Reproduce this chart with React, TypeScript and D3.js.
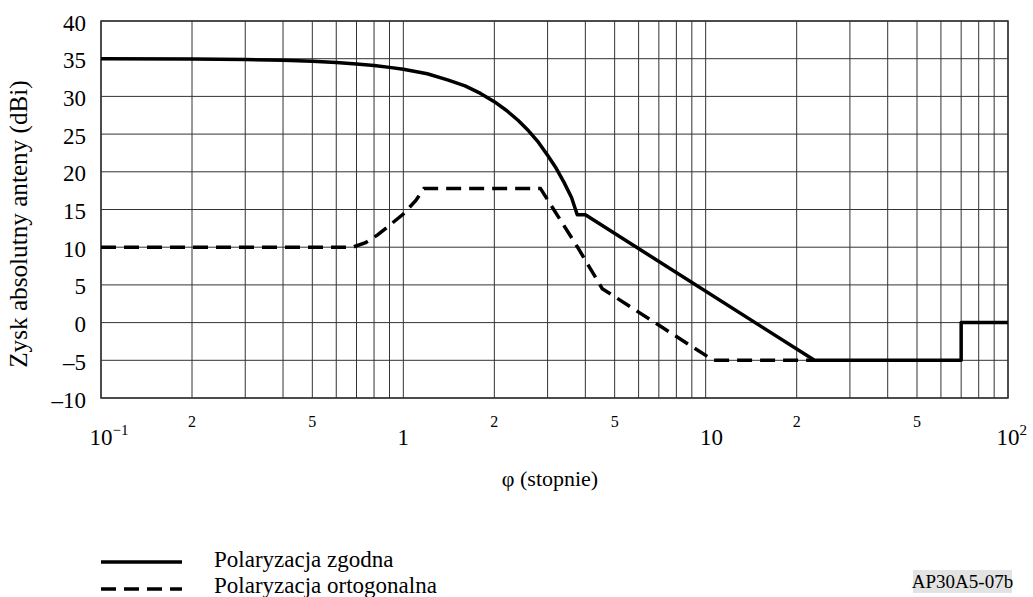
import React from 'react';
import * as d3 from 'd3';

// co-polar gain (solid)
const coX = [0.1, 0.2, 0.3, 0.4, 0.5, 0.6, 0.7, 0.8, 0.9, 1.0, 1.2, 1.4, 1.6, 1.8, 2.0, 2.2, 2.4, 2.6, 2.8, 3.0, 3.2, 3.4, 3.6, 3.76, 4.0, 22.9, 70, 70, 100];
const coY = [35, 34.95, 34.9, 34.8, 34.65, 34.5, 34.3, 34.1, 33.85, 33.6, 33.0, 32.2, 31.4, 30.4, 29.3, 28.1, 26.8, 25.4, 23.9, 22.2, 20.5, 18.6, 16.6, 14.3, 14.3, -5, -5, 0, 0];

// cross-polar gain (dashed)
const crossX = [0.1, 0.68, 0.75, 0.82, 0.9, 1.0, 1.1, 1.17, 2.84, 3.77, 4.55, 10.6, 22.9];
const crossY = [10, 10, 10.6, 11.6, 12.9, 14.4, 16.2, 17.8, 17.8, 10, 4.5, -5, -5];

const yTicks = [-10, -5, 0, 5, 10, 15, 20, 25, 30, 35, 40];
const decades = [0.1, 1, 10, 100];
const decadeLabels = [['10', '\u22121'], ['1', ''], ['10', ''], ['10', '2']];
const minorLabelVals = [0.2, 0.5, 2, 5, 20, 50];
const minorLabelText = ['2', '5', '2', '5', '2', '5'];

const legendNames = ['Polaryzacja zgodna', 'Polaryzacja ortogonalna'];

const W = 1033, H = 597;
const left = 101, right = 1008, top = 21, bottom = 398;
const font = 'Liberation Serif';

export default function App() {
  const x = d3.scaleLog().domain([0.1, 100]).range([left, right]);
  const y = d3.scaleLinear().domain([-10, 40]).range([bottom, top]);

  const gridX: number[] = [];
  for (const dec of [0.1, 1, 10]) for (let k = 1; k <= 9; k++) gridX.push(dec * k);
  gridX.push(100);

  const line = d3.line<[number, number]>().x(d => x(d[0])).y(d => y(d[1]));
  const coPts = coX.map((v, i) => [v, coY[i]] as [number, number]);
  const crossPts = crossX.map((v, i) => [v, crossY[i]] as [number, number]);

  return (
    <svg width={W} height={H} style={{ position: 'absolute', left: 0, top: 0, background: '#fff' }}>
      <g fontFamily={font}>
        {/* grid */}
        {gridX.map((g, i) => (
          <line key={'gx' + i} x1={x(g)} x2={x(g)} y1={top} y2={bottom} stroke="#333" strokeWidth={1} />
        ))}
        {yTicks.map(t => (
          <line key={'gy' + t} x1={left} x2={right} y1={y(t)} y2={y(t)} stroke="#333" strokeWidth={1} />
        ))}
        <rect x={left} y={top} width={right - left} height={bottom - top} fill="none" stroke="#333" strokeWidth={1.5} />

        {/* y tick labels */}
        {yTicks.map(t => (
          <text key={'yl' + t} x={86} y={y(t) + 9.5} textAnchor="end" fontSize={23}>
            {t < 0 ? '\u2013' + Math.abs(t) : t}
          </text>
        ))}

        {/* x labels */}
        {decades.map((d, i) => (
          <text key={'xl' + i} x={x(d)} y={445} fontSize={23} dx={decadeLabels[i][1] ? -11.5 : -5.75}>
            {decadeLabels[i][0]}
            {decadeLabels[i][1] && <tspan dy={-10} fontSize={15}>{decadeLabels[i][1]}</tspan>}
          </text>
        ))}
        {minorLabelVals.map((m, i) => (
          <text key={'ml' + i} x={x(m)} y={427} fontSize={16} textAnchor="middle">{minorLabelText[i]}</text>
        ))}

        {/* axis titles */}
        <text x={550} y={486} fontSize={22} textAnchor="middle">φ (stopnie)</text>
        <text transform={`translate(27,224) rotate(-90)`} fontSize={25.2} textAnchor="middle">
          Zysk absolutny anteny (dBi)
        </text>

        {/* curves */}
        <path d={line(crossPts) ?? ''} fill="none" stroke="#000" strokeWidth={3.5} strokeDasharray="15,8" />
        <path d={line(coPts) ?? ''} fill="none" stroke="#000" strokeWidth={3.5} strokeLinejoin="round" />

        {/* legend */}
        <line x1={101} x2={182} y1={562} y2={562} stroke="#000" strokeWidth={3.5} />
        <line x1={101} x2={182} y1={589} y2={589} stroke="#000" strokeWidth={3.5} strokeDasharray="15,8" />
        <text x={214} y={567} fontSize={23}>{legendNames[0]}</text>
        <text x={214} y={593} fontSize={23}>{legendNames[1]}</text>

        <rect x={913} y={570} width={99} height={23} fill="#e3e3e3" />
        <text x={962.5} y={588} fontSize={19} textAnchor="middle">AP30A5-07b</text>
      </g>
    </svg>
  );
}
